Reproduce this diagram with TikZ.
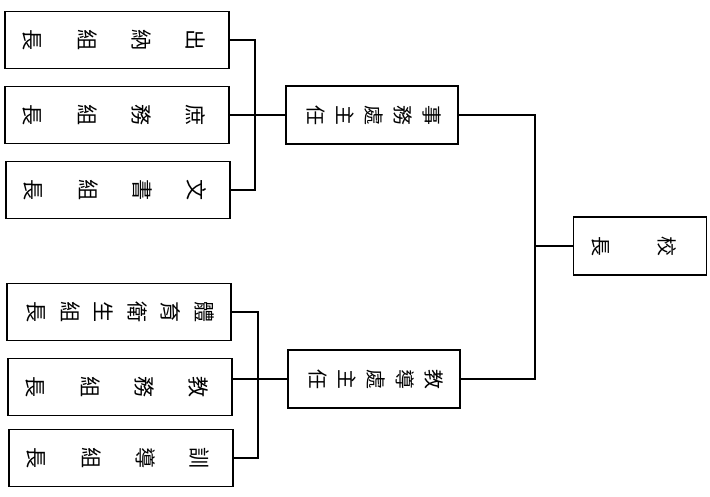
\documentclass[tikz,border=0pt]{standalone}
\usepackage{fontspec}
\usepackage{graphicx}
\newfontfamily\cjk{Noto Sans CJK TC}
% vertical title, page turned a quarter clockwise
\newcommand{\vlabel}[2]{\rotatebox{-90}{\renewcommand{\arraystretch}{#1}\begin{tabular}{@{}c@{}}#2\end{tabular}}}

\begin{document}
\begin{tikzpicture}[
  x=0.03cm, y=-0.03cm,
  unit/.style={rectangle, draw=black, line width=1.5pt, inner sep=0pt,
    minimum width=6.72cm, minimum height=1.71cm,
    font=\cjk\fontsize{18}{22}\selectfont},
  office/.style={unit, minimum width=5.16cm, minimum height=1.74cm,
    font=\cjk\fontsize{17}{21}\selectfont},
  link/.style={line width=2.3pt, black},
]
  \useasboundingbox (0,0) rectangle (710,496);

  \node[unit] (cashier)  at (117,40)  {\vlabel{2.1}{出\\納\\組\\長}};
  \node[unit] (general)  at (117,115) {\vlabel{2.1}{庶\\務\\組\\長}};
  \node[unit] (clerical) at (118,190) {\vlabel{2.1}{文\\書\\組\\長}};
  \node[unit] (health)   at (119,312) {\vlabel{1.3}{體\\育\\衛\\生\\組\\長}};
  \node[unit] (teaching) at (120,387) {\vlabel{2.1}{教\\務\\組\\長}};
  \node[unit] (conduct)  at (121,458) {\vlabel{2.1}{訓\\導\\組\\長}};

  \node[office] (affairs)  at (372,115) {\vlabel{1.18}{事\\務\\處\\主\\任}};
  \node[office] (guidance) at (374,379) {\vlabel{1.18}{教\\導\\處\\主\\任}};

  \node[office, minimum width=3.75cm] (head) at (640,246) {\vlabel{2.7}{校\\長}};

  \coordinate (upper) at (255,115);
  \coordinate (lower) at (258,379);
  \coordinate (top)   at (535,246);

  \draw[link] (cashier.east) -| (upper) |- (clerical.east);
  \draw[link] (general.east) -- (affairs.west);
  \draw[link] (health.east) -| (lower) |- (conduct.east);
  \draw[link] (teaching.east |- guidance) -- (guidance.west);
  \draw[link] (affairs.east) -| (top) |- (guidance.east);
  \draw[link] (head.west) -- (top);
\end{tikzpicture}
\end{document}
